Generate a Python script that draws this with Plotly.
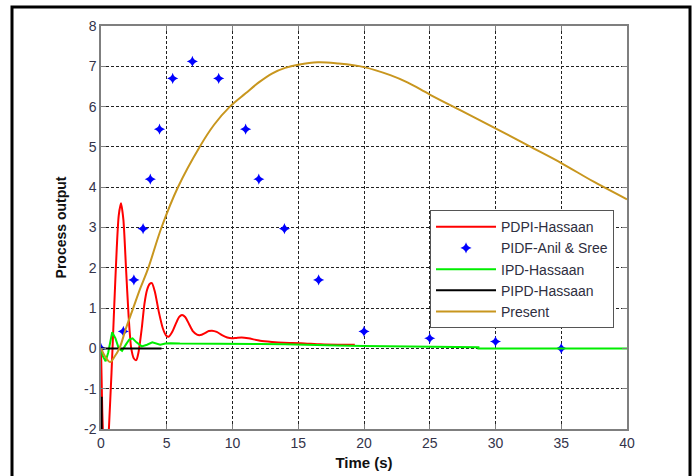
import plotly.graph_objects as go

# ---- data ----
pdpi_t = [0, 0.05, 0.1, 0.15, 0.25, 0.38, 0.5, 0.6, 0.8, 1.0, 1.2, 1.35, 1.52, 1.7, 1.9, 2.1, 2.3,
          2.5, 2.68, 2.85, 3.1, 3.3, 3.5, 3.7, 3.87, 4.1, 4.4, 4.7, 4.95, 5.14, 5.4, 5.7, 5.95,
          6.16, 6.4, 6.7, 7.0, 7.3, 7.56, 7.9, 8.2, 8.44, 8.8, 9.2, 9.6, 9.96, 10.3, 10.7, 11.2,
          12.1, 13.0, 13.9, 15.2, 16.7, 18.0, 19.3]
pdpi_y = [0, -0.8, -1.6, -2.1, -2.8, -3.1, -2.7, -2.0, -0.6, 1.0, 2.5, 3.3, 3.6, 3.2, 2.0, 0.8, 0.0,
          -0.25, -0.29, -0.1, 0.5, 1.1, 1.45, 1.6, 1.62, 1.4, 0.9, 0.5, 0.32, 0.29, 0.4, 0.62, 0.78,
          0.83, 0.78, 0.6, 0.42, 0.34, 0.33, 0.38, 0.43, 0.44, 0.41, 0.33, 0.27, 0.25, 0.26, 0.27, 0.25,
          0.19, 0.16, 0.14, 0.13, 0.10, 0.09, 0.09]

pidf_t = [0, 1.7, 2.5, 3.2, 3.75, 4.45, 5.45, 6.95, 8.95, 11.0, 12.0, 13.95, 16.55, 20, 25, 30, 35]
pidf_y = [0, 0.42, 1.7, 2.97, 4.2, 5.44, 6.7, 7.12, 6.7, 5.44, 4.2, 2.97, 1.7, 0.42, 0.25, 0.17, 0.0]

ipd_t = [0, 0.15, 0.35, 0.55, 0.85, 1.1, 1.35, 1.6, 1.9, 2.15, 2.4, 2.7, 3.1, 3.5, 3.9, 4.2, 4.5,
         4.9, 5.3, 6, 8, 10, 12, 14, 16, 18, 20, 24, 28.7, 28.7, 40]
ipd_y = [0, -0.2, -0.32, -0.1, 0.4, 0.25, 0.0, -0.06, 0.1, 0.22, 0.25, 0.15, 0.05, 0.09, 0.15, 0.12, 0.09,
         0.12, 0.13, 0.12, 0.12, 0.12, 0.11, 0.10, 0.08, 0.07, 0.06, 0.04, 0.03, 0.0, 0.0]

pipd_t = [0.05, 0.05, None, 0, 4.6]
pipd_y = [-1.2, -2.6, None, 0, 0]

present_t = [0, 0.35, 0.7, 1.0, 1.4, 1.9, 2.45, 3.0, 3.6, 4.6, 5.85, 7.5, 8.6, 9.8, 11.0, 12.0, 13.0,
             14.0, 15.0, 16.5, 18.0, 20.0, 22.0, 23.3, 25.0, 27.5, 30.0, 32.5, 35.0, 37.5, 40.0]
present_y = [0, -0.22, -0.34, -0.22, 0.0, 0.5, 1.0, 1.5, 2.0, 3.0, 4.0, 5.0, 5.55, 6.0, 6.33, 6.6, 6.82,
             6.96, 7.04, 7.1, 7.07, 6.98, 6.78, 6.6, 6.3, 5.88, 5.46, 5.03, 4.6, 4.13, 3.7]

x_ticks = [0, 5, 10, 15, 20, 25, 30, 35, 40]
y_ticks = [-2, -1, 0, 1, 2, 3, 4, 5, 6, 7, 8]

FONT = "Liberation Sans, Arial, sans-serif"
TICKCOL = "#33334a"

fig = go.Figure()
fig.add_trace(go.Scatter(x=pdpi_t, y=pdpi_y, mode="lines", name="PDPI-Hassaan",
                         line=dict(color="#ff0000", width=2, shape="spline", smoothing=0.7)))
fig.add_trace(go.Scatter(x=pidf_t, y=pidf_y, mode="markers", name="PIDF-Anil & Sree",
                         marker=dict(symbol="star-diamond", size=8, color="#0000ff")))
fig.add_trace(go.Scatter(x=ipd_t, y=ipd_y, mode="lines", name="IPD-Hassaan",
                         line=dict(color="#00ee00", width=2)))
fig.add_trace(go.Scatter(x=pipd_t, y=pipd_y, mode="lines", name="PIPD-Hassaan",
                         line=dict(color="#000000", width=2)))
fig.add_trace(go.Scatter(x=present_t, y=present_y, mode="lines", name="Present",
                         line=dict(color="#c8961e", width=2, shape="spline", smoothing=1.0)))

axis_common = dict(showline=True, linecolor="#7f7f7f", linewidth=1.5, mirror="ticks",
                   ticks="inside", ticklen=5, tickcolor="#7f7f7f",
                   showgrid=True, gridcolor="#222222", gridwidth=1, griddash="3px,2px",
                   zeroline=False, automargin=False,
                   tickfont=dict(family=FONT, size=14, color=TICKCOL))

fig.update_xaxes(range=[0, 40], tickvals=x_ticks, ticktext=[str(v) for v in x_ticks],
                 title=dict(text="<b>Time (s)</b>", font=dict(family=FONT, size=15, color="#111"),
                            standoff=8),
                 **axis_common)
fig.update_yaxes(range=[-2, 8], tickvals=y_ticks, ticktext=[str(v) for v in y_ticks],
                 title=dict(text="<b>Process output</b>", font=dict(family=FONT, size=14, color="#111"),
                            standoff=14),
                 **axis_common)

fig.update_layout(
    width=694, height=476,
    margin=dict(l=101, r=67, t=26, b=47),
    paper_bgcolor="white", plot_bgcolor="white",
    showlegend=True,
    legend=dict(x=0.6255, y=0.543, xanchor="left", yanchor="top",
                bgcolor="white", bordercolor="#555555", borderwidth=1,
                font=dict(family=FONT, size=14, color="#2e2e40"),
                itemwidth=60, tracegroupgap=0),
    shapes=[dict(type="rect", xref="paper", yref="paper",
                 x0=-0.1692, x1=1.1198, y0=-0.15, y1=1.0471,
                 line=dict(color="black", width=3), layer="above")],
)

fig.write_html("out.html")
